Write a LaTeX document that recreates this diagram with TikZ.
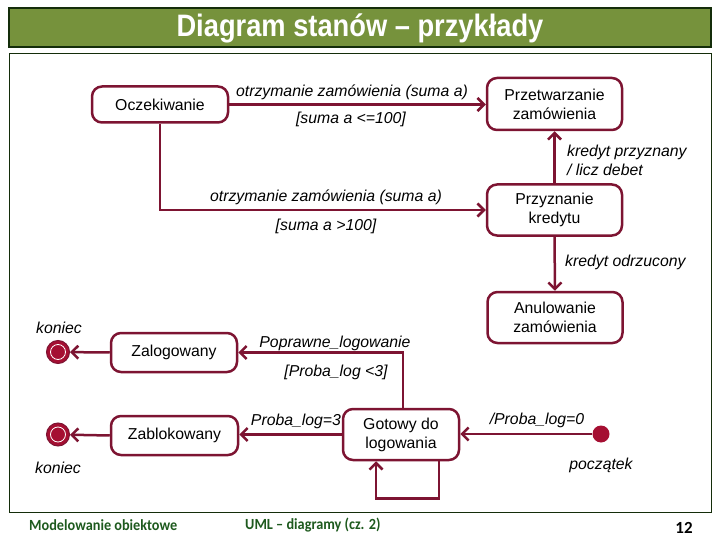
\documentclass[tikz,border=0pt]{standalone}
\usepackage{fontspec}
\usepackage{graphicx}
\setmainfont{Liberation Sans}
\newfontfamily\footfont{Carlito}
\usetikzlibrary{arrows.meta,calc}
\definecolor{dred}{RGB}{125,20,50}
\definecolor{dotred}{RGB}{165,15,50}
\definecolor{olive}{RGB}{118,146,60}
\definecolor{darkgreenb}{RGB}{20,45,10}
\definecolor{footgreen}{RGB}{30,90,30}
\tikzset{
  statebox/.style={draw=dred, line width=2.5pt, rounded corners=10pt, fill=white, inner sep=0pt, align=center, font=\fontsize{15.8}{19}\selectfont},
  arr/.style={draw=dred, line width=2.5pt, -{Straight Barb[length=6.5pt,width=13pt]}},
  lbl/.style={font=\fontsize{15.8}{19}\selectfont\itshape, inner sep=0pt},
  finalouter/.style={circle, fill=dotred, draw=dred, line width=1pt, minimum size=23pt, inner sep=0pt},
  finalinner/.style={circle, draw=white, line width=0.8pt, minimum size=15pt, inner sep=0pt},
  initdot/.style={circle, fill=dotred, minimum size=17pt, inner sep=0pt},
  foot/.style={font=\footfont\bfseries\fontsize{15.5}{17}\selectfont, text=footgreen, inner sep=0pt}
}
\begin{document}
\begin{tikzpicture}[x=1pt,y=-1pt]
\useasboundingbox (0,0) rectangle (720,540);
% title bar
\draw[fill=olive, draw=darkgreenb, line width=1.2pt] (9,8) rectangle (711,47);
\node[text=white, inner sep=0pt, font=\bfseries\fontsize{31}{34}\selectfont] (title) at (360,28) {\scalebox{0.88}[1]{Diagram stanów – przykłady}};
% frame
\draw[draw=darkgreenb, line width=1pt] (9,54) rectangle (711,512);

% states
\node[statebox, minimum width=136pt, minimum height=36pt] (oczek) at (160,104.5) {Oczekiwanie};
\node[statebox, minimum width=135pt, minimum height=52pt] (przetw) at (554.5,104) {Przetwarzanie\\zamówienia};
\node[statebox, minimum width=135pt, minimum height=51pt] (przyzn) at (554.5,210) {Przyznanie\\kredytu};
\node[statebox, minimum width=135pt, minimum height=51pt] (anul) at (555,317.5) {Anulowanie\\zamówienia};
\node[statebox, minimum width=126pt, minimum height=39pt] (zalog) at (174,352.5) {Zalogowany};
\node[statebox, minimum width=127pt, minimum height=39pt] (zablok) at (174.5,435.5) {Zablokowany};
\node[statebox, minimum width=116pt, minimum height=51pt] (gotowy) at (401,434.5) {Gotowy do\\logowania};

% initial / final
\node[initdot] (init) at (601,434) {};
\node[finalouter] (fin1) at (58,352) {};
\node[finalinner] (fin1i) at (58,352) {};
\node[finalouter] (fin2) at (58,434.5) {};
\node[finalinner] (fin2i) at (58,434.5) {};

% transitions
\draw[arr] (oczek.east) -- (oczek.east -| przetw.west);
\node[lbl] (l1) at (352,92) {otrzymanie zamówienia (suma a)};
\node[lbl] (l2) at (351,119) {[suma a <=100]};

\draw[arr] (oczek.south) |- (przyzn.west);
\node[lbl] (l3) at (326,197) {otrzymanie zamówienia (suma a)};
\node[lbl] (l4) at (326,226) {[suma a >100]};

\draw[arr] (przyzn.north) -- (przetw.south);
\node[lbl, anchor=west, align=left] (l5) at (567,160.5) {kredyt przyznany\\/ licz debet};

\draw[arr] (przyzn.south) -- (anul.north);
\node[lbl, anchor=west] (l6) at (565,262) {kredyt odrzucony};

\draw[arr] (init) -- (init -| gotowy.east);
\node[lbl] (l7) at (537,420) {/Proba\_log=0};
\node[lbl] (l8) at (601,465) {początek};

\draw[arr] ([xshift=2pt]gotowy.north) |- (zalog.east);
\node[lbl] (l9) at (335,343) {Poprawne\_logowanie};
\node[lbl] (l10) at (336,372.5) {[Proba\_log <3]};

\draw[arr] (gotowy.west) -- (gotowy.west -| zablok.east);
\node[lbl] (l11) at (296,421) {Proba\_log=3};

\draw[arr] ([xshift=38pt]gotowy.south) -- ++(0,37) -| ([xshift=-25pt]gotowy.south);

\draw[arr] (zalog.west) -- (fin1);
\draw[arr] (zablok.west) -- (fin2);
\node[lbl] (k1) at (59,328) {koniec};
\node[lbl] (k2) at (58,468) {koniec};

% footer
\node[foot, anchor=west] (f1) at (29,525.5) {\scalebox{0.92}[1]{Modelowanie obiektowe}};
\node[foot, anchor=west] (f2) at (245,525.5) {\scalebox{0.92}[1]{UML – diagramy (cz. 2)}};
\node[foot, text=black, font=\footfont\bfseries\fontsize{17}{19}\selectfont] (f3) at (684,528) {12};
\end{tikzpicture}
\end{document}
